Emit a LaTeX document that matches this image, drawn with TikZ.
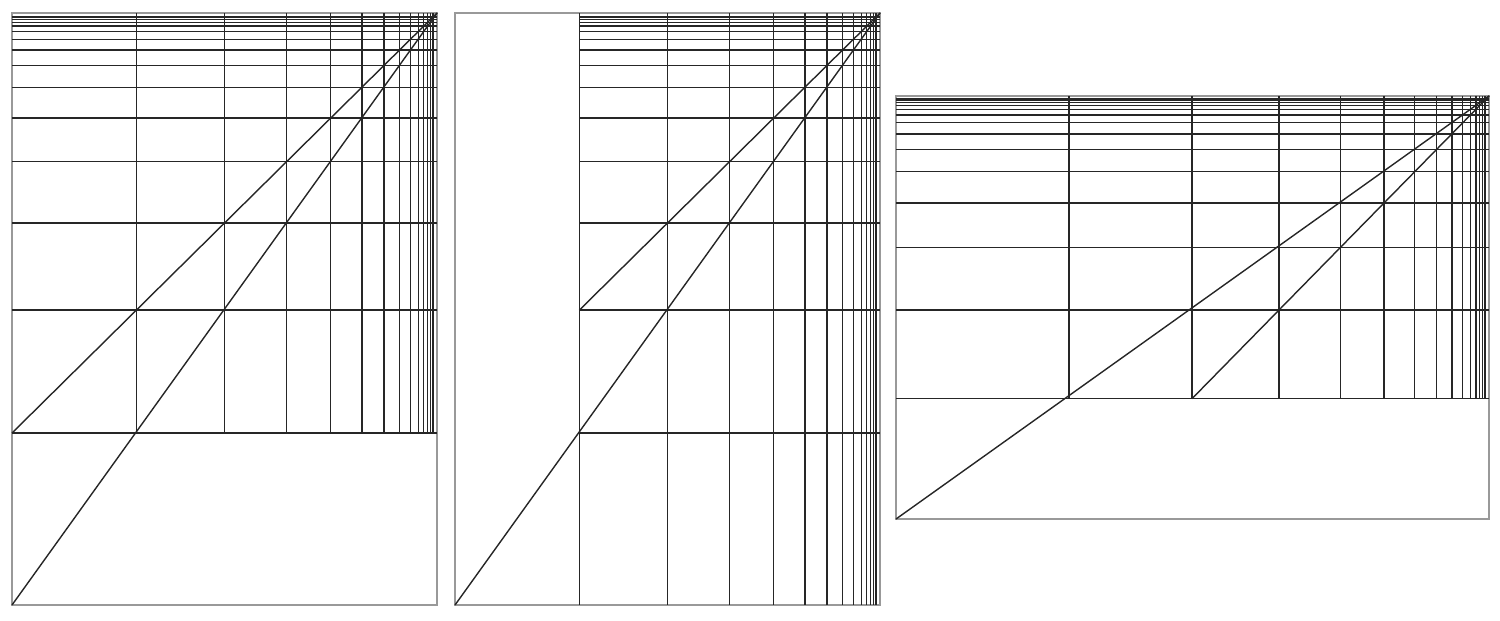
\documentclass[tikz,border=0pt]{standalone}
\usepackage{tikz}

\begin{document}
\begin{tikzpicture}[x=0.01cm, y=-0.01cm,
        sheet/.style={draw=black!40, line width=0.5pt},
        rule/.style={draw=black!85, line width=0.4pt}]
        \useasboundingbox (0,0) rectangle (1500,620);

        % first sheet
        \draw[sheet] (12,13) rectangle (437,605);
        \coordinate (c1) at (437,13);
        \coordinate (a1) at (12,433);
        \coordinate (b1) at (12,605);
        \foreach \k [evaluate=\k as \off using 425*0.7071^\k] in {1,...,14}
          \draw[rule] (437-\off,13) -- (437-\off,433);
        \foreach \k [evaluate=\k as \off using 420*0.7071^\k] in {0,...,14}
          \draw[rule] (12,13+\off) -- (437,13+\off);
        \draw[rule] (a1) -- (c1);
        \draw[rule] (b1) -- (c1);

        % second sheet
        \draw[sheet] (455,13) rectangle (880,605);
        \coordinate (c2) at (880,13);
        \coordinate (a2) at (880-425*0.7071,13+420*0.7071);
        \coordinate (b2) at (455,605);
        \foreach \k [evaluate=\k as \off using 425*0.7071^\k] in {1,...,14}
          \draw[rule] (880-\off,13) -- (880-\off,605);
        \foreach \k [evaluate=\k as \off using 420*0.7071^\k] in {0,...,14}
          \draw[rule] (880-425*0.7071,13+\off) -- (880,13+\off);
        \draw[rule] (a2) -- (c2);
        \draw[rule] (b2) -- (c2);

        % third sheet
        \draw[sheet] (896,96) rectangle (1489,519);
        \coordinate (c3) at (1489,96);
        \coordinate (a3) at (1489-420*0.7071,96+428*0.7071);
        \coordinate (b3) at (896,519);
        \foreach \k [evaluate=\k as \off using 420*0.7071^\k] in {0,...,14}
          \draw[rule] (1489-\off,96) -- (1489-\off,96+428*0.7071);
        \foreach \k [evaluate=\k as \off using 428*0.7071^\k] in {1,...,15}
          \draw[rule] (896,96+\off) -- (1489,96+\off);
        \draw[rule] (a3) -- (c3);
        \draw[rule] (b3) -- (c3);

\end{tikzpicture}
\end{document}
